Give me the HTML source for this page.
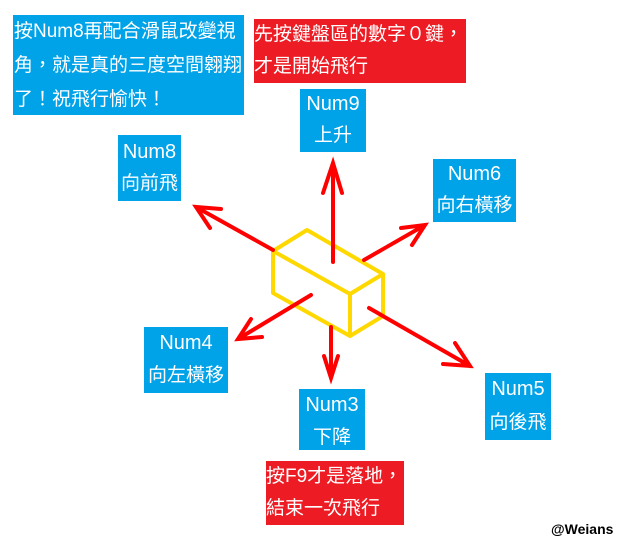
<!DOCTYPE html>
<html><head><meta charset="utf-8"><style>
body{margin:0;width:640px;height:552px;background:#fff;position:relative;overflow:hidden;font-family:"Liberation Sans","Noto Sans CJK TC",sans-serif;}
.b{position:absolute;background:#00a2e8;color:#fff;font-size:19px;line-height:32px;white-space:nowrap;}
.r{background:#ed1c24;}
.c{text-align:center;}
.n{font-size:20px;}
svg{position:absolute;left:0;top:0;}
</style></head><body>
<div class="b" style="left:13px;top:15px;width:231px;height:100px;line-height:34px;padding-left:1px;box-sizing:border-box;">按Num8再配合滑鼠改變視<br>角，就是真的三度空間翱翔<br>了！祝飛行愉快！</div>
<div class="b r" style="left:254px;top:19px;width:212px;height:64px;">先按鍵盤區的數字０鍵，<br>才是開始飛行</div>
<div class="b c" style="left:300px;top:89px;width:66px;height:63px;line-height:31px;"><span class="n">Num9</span><br>上升</div>
<div class="b c" style="left:118px;top:135px;width:63px;height:66px;line-height:31px;padding-top:2px;box-sizing:border-box;"><span class="n">Num8</span><br>向前飛</div>
<div class="b c" style="left:433px;top:159px;width:83px;height:63px;line-height:31px;"><span class="n">Num6</span><br>向右橫移</div>
<div class="b c" style="left:144px;top:327px;width:84px;height:66px;line-height:32px;"><span class="n">Num4</span><br>向左橫移</div>
<div class="b c" style="left:299px;top:389px;width:66px;height:61px;line-height:32px;"><span class="n">Num3</span><br>下降</div>
<div class="b c" style="left:485px;top:373px;width:66px;height:67px;line-height:33px;"><span class="n">Num5</span><br>向後飛</div>
<div class="b r" style="left:266px;top:461px;width:138px;height:64px;">按F9才是落地，<br>結束一次飛行</div>
<div style="position:absolute;left:551px;top:521px;font-size:14px;font-weight:bold;color:#000;">@Weians</div>
<svg width="640" height="552">
<g fill="none" stroke="#ffd800" stroke-width="4" stroke-linejoin="round">
<path d="M273 251 L350 294 L350 336 L273 293 Z"/>
<path d="M273 251 L307 230 L383 274 L350 294"/>
<path d="M383 274 L383 316 L350 336"/>
</g>
<g fill="none" stroke="#ff0000" stroke-width="4" stroke-linecap="round">
<path d="M333 262 L333 163 M323 193 L333 163 L342 193"/>
<path d="M273 250 L196 207 M221 209 L196 207 L210 228"/>
<path d="M364 260 L425 225 M401 228 L425 225 L412 245"/>
<path d="M311 295 L238 339 M251 319 L238 339 L262 337"/>
<path d="M331 327 L331 378 M324 356 L331 378 L338 356"/>
<path d="M369 308 L470 366 M455 343 L470 366 L443 364"/>
</g>
</svg>
</body></html>
